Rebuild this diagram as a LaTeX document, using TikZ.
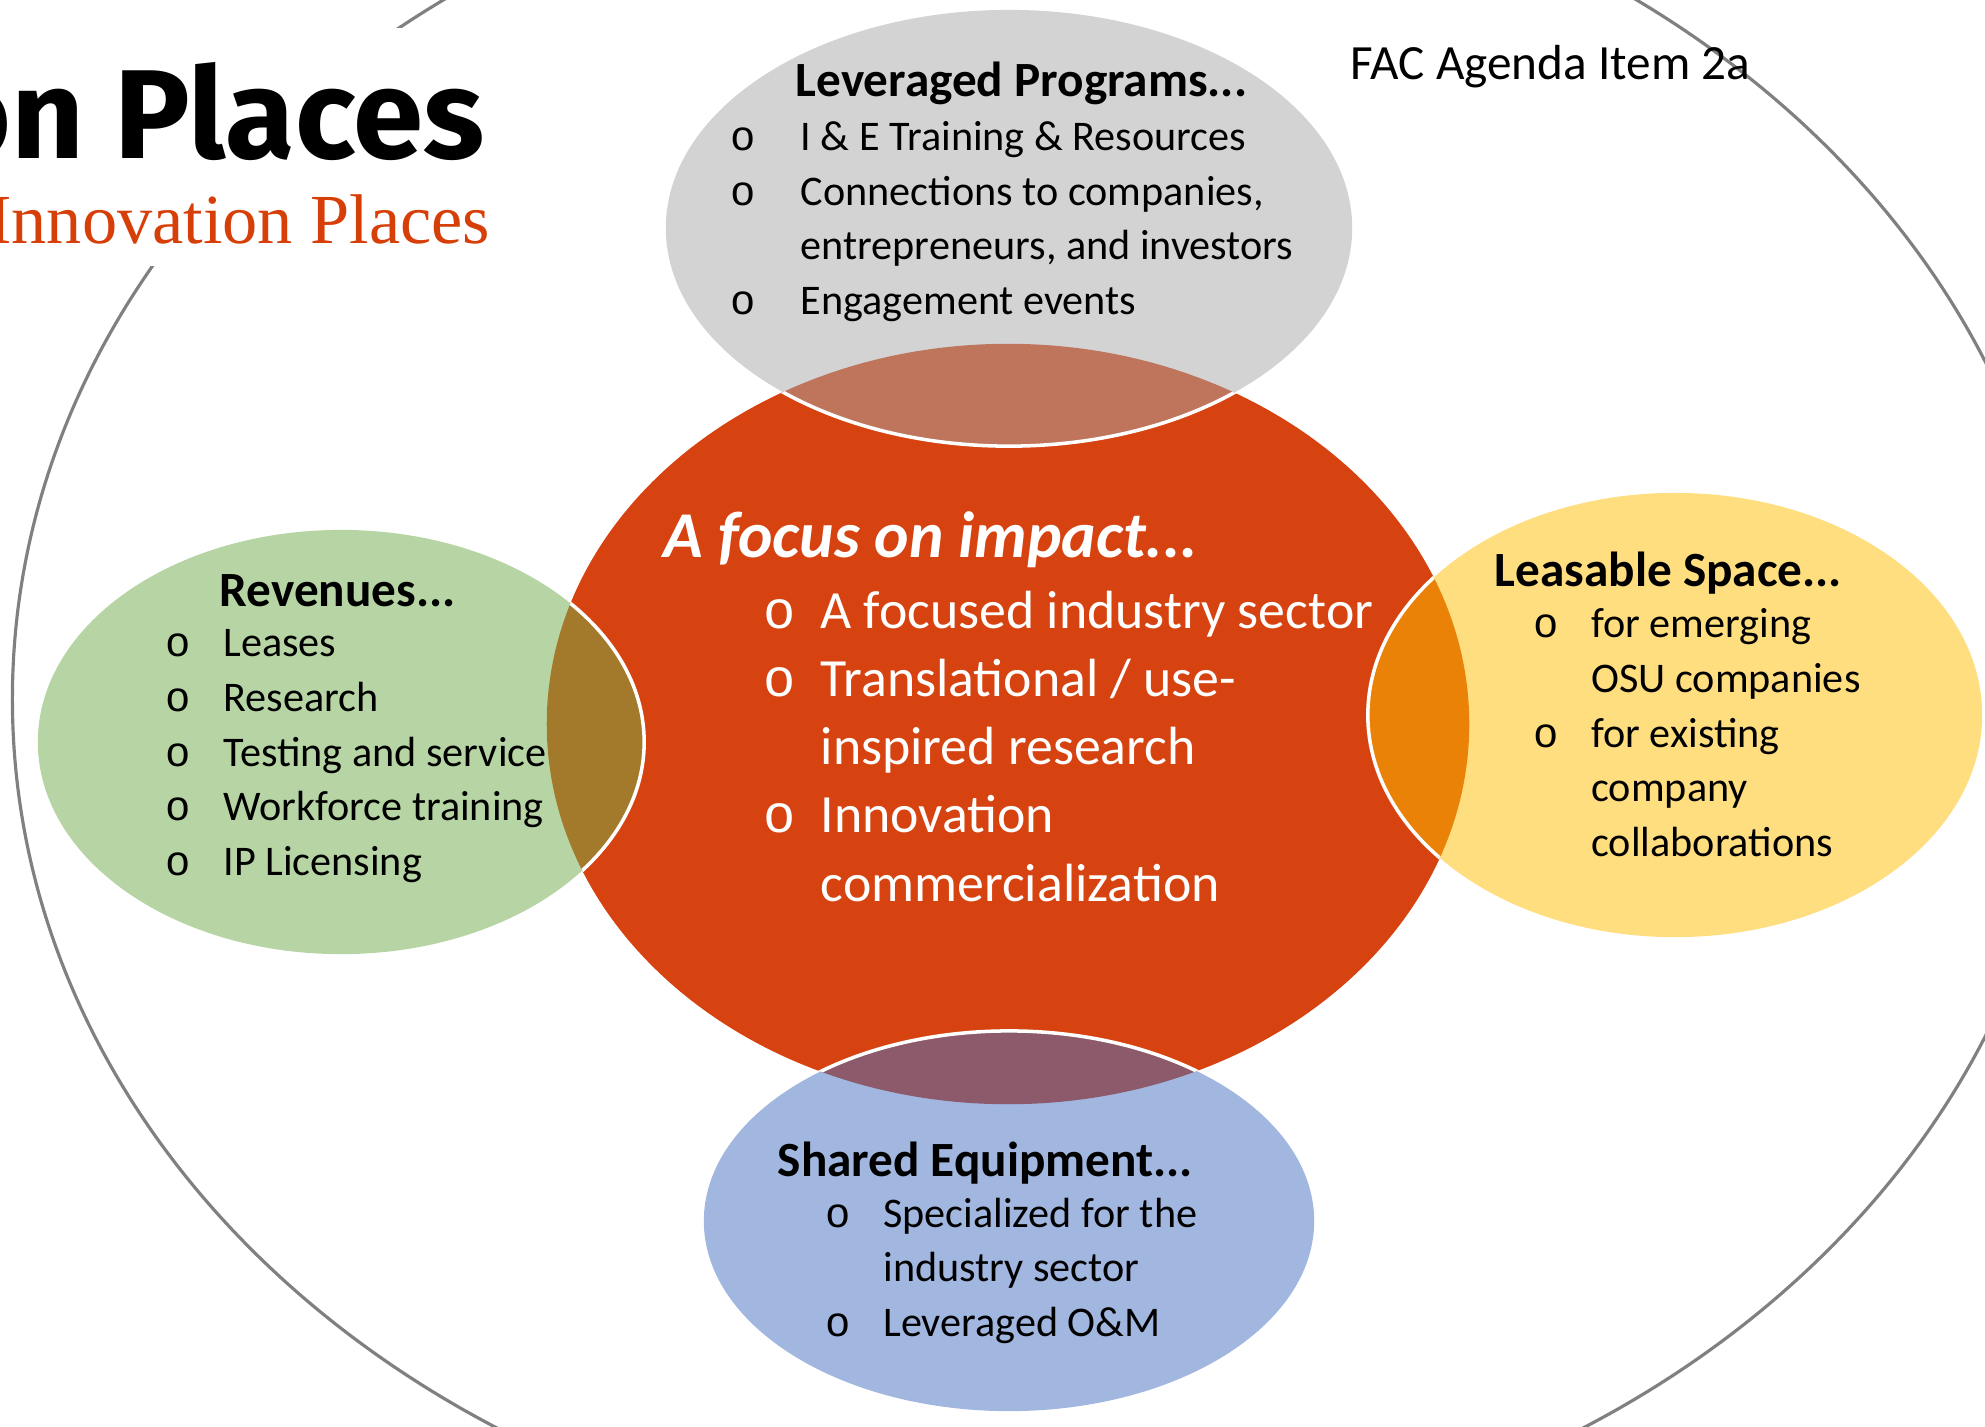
\documentclass[tikz,border=0pt]{standalone}
\usepackage{fontspec}
\setmainfont{Carlito}
\newfontfamily\bulletfont{Liberation Mono}
\newfontfamily\titlefont{Fira Sans}
\newfontfamily\subtitlefont{Liberation Serif}
\usetikzlibrary{positioning}

\definecolor{osuorange}{HTML}{D73F09}
\definecolor{impactred}{HTML}{D64310}
\definecolor{progray}{HTML}{D3D3D3}
\definecolor{revgreen}{HTML}{B7D5A4}
\definecolor{spaceyellow}{HTML}{FFDE80}
\definecolor{equipblue}{HTML}{A1B7E0}
\definecolor{lensgray}{HTML}{BF755C}
\definecolor{lensgreen}{HTML}{A3792B}
\definecolor{lensyellow}{HTML}{EA8208}
\definecolor{lensblue}{HTML}{8C5A6A}
\definecolor{ringgray}{HTML}{808080}

\newcommand{\listbul}[1][16.4pt]{\makebox[#1][l]{\bulletfont o}}
\newcommand{\listgap}[1][16.4pt]{\hspace*{#1}}

% list nodes are placed at the baseline of their last line
\tikzset{
  listtext/.style={font=\fontsize{12}{15.5}\selectfont, align=left, inner sep=0pt, anchor=base west},
  headtext/.style={font=\fontsize{14}{17}\selectfont\bfseries, inner sep=0pt, anchor=base west},
  lensedge/.style={draw=white, line width=1pt},
}

\begin{document}
\begin{tikzpicture}[x=0.01cm, y=-0.01cm]
  \useasboundingbox (0,0) rectangle (1985,1426);
  \clip (0,0) rectangle (1985,1426);

  % Define centres
  \coordinate (Cring) at (1040,699);
  \coordinate (Cimp) at (1008,724);
  \coordinate (Cprog) at (1009,228);
  \coordinate (Crev) at (341,742);
  \coordinate (Cspace) at (1675,715);
  \coordinate (Cequip) at (1009,1221);

  % Outer ring and title
  \draw[ringgray, line width=0.9pt] (Cring) ellipse [x radius=10.27cm, y radius=8.58cm];
  \fill[white] (0,28) rectangle (505,266);
  \node[font=\titlefont\bfseries\fontsize{36}{40}\selectfont, inner sep=0pt, anchor=base east] (title) at (485,158) {on Places};
  \node[font=\subtitlefont\fontsize{20}{24}\selectfont, text=osuorange, inner sep=0pt, anchor=base east] (subtitle) at (491,243) {Innovation Places};
  \node[font=\fontsize{14}{17}\selectfont, inner sep=0pt, anchor=base west] (agenda) at (1350,79) {FAC Agenda Item 2a};

  % Bubbles
  \fill[impactred] (Cimp) ellipse [x radius=4.61cm, y radius=3.80cm];
  \fill[progray] (Cprog) ellipse [x radius=3.43cm, y radius=2.18cm];
  \fill[revgreen] (Crev) ellipse [x radius=3.03cm, y radius=2.12cm];
  \fill[spaceyellow] (Cspace) ellipse [x radius=3.07cm, y radius=2.22cm];
  \fill[equipblue] (Cequip) ellipse [x radius=3.05cm, y radius=1.90cm];

  % Overlaps with the centre
  \begin{scope}
    \clip (Cimp) ellipse [x radius=4.61cm, y radius=3.80cm];
    \fill[lensgray, lensedge] (Cprog) ellipse [x radius=3.43cm, y radius=2.18cm];
    \fill[lensgreen, lensedge] (Crev) ellipse [x radius=3.03cm, y radius=2.12cm];
    \fill[lensyellow, lensedge] (Cspace) ellipse [x radius=3.07cm, y radius=2.22cm];
    \fill[lensblue, lensedge] (Cequip) ellipse [x radius=3.05cm, y radius=1.90cm];
  \end{scope}

  % Texts
  \node[headtext] (proghead) at (795,96) {Leveraged Programs...};
  \node[listtext] (progitems) at (730,314) {\listbul[19.9pt]I \& E Training \& Resources\\
    \listbul[19.9pt]Connections to companies,\\
    \listgap[19.9pt]entrepreneurs, and investors\\
    \listbul[19.9pt]Engagement events};

  \node[headtext, font=\fontsize{18.6}{22}\selectfont\bfseries\itshape, text=white] (imphead) at (663,557) {A focus on impact...};
  \node[listtext, font=\fontsize{15.3}{19.4}\selectfont, text=white] (impitems) at (763,901) {\listbul[16.2pt]A focused industry sector\\
    \listbul[16.2pt]Translational / use-\\
    \listgap[16.2pt]inspired research\\
    \listbul[16.2pt]Innovation\\
    \listgap[16.2pt]commercialization};

  \node[headtext] (revhead) at (219,606) {Revenues...};
  \node[listtext] (revitems) at (165,875) {\listbul Leases\\
    \listbul Research\\
    \listbul Testing and service\\
    \listbul Workforce training\\
    \listbul IP Licensing};

  \node[headtext] (spacehead) at (1494,586) {Leasable Space...};
  \node[listtext] (spaceitems) at (1533,856) {\listbul for emerging\\
    \listgap OSU companies\\
    \listbul for existing\\
    \listgap company\\
    \listgap collaborations};

  \node[headtext] (equiphead) at (777,1176) {Shared Equipment...};
  \node[listtext] (equipitems) at (825,1336) {\listbul Specialized for the\\
    \listgap industry sector\\
    \listbul Leveraged O\&M};
\end{tikzpicture}
\end{document}
